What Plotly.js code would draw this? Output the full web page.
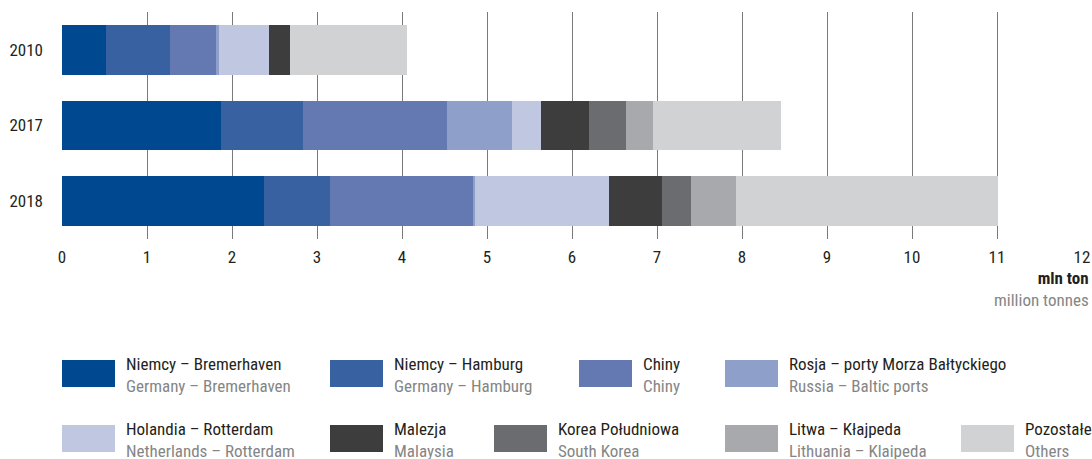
<!DOCTYPE html>
<html><head><meta charset="utf-8">
<script src="https://cdn.plot.ly/plotly-3.0.1.min.js"></script>
<style>html,body{margin:0;padding:0;background:#fff}#chart{width:1092px;height:459px}</style>
</head><body><div id="chart"></div>
<script>
const years = ['2010', '2017', '2018'];
const seriesPL = ['Niemcy – Bremerhaven', 'Niemcy – Hamburg', 'Chiny', 'Rosja – porty Morza Bałtyckiego', 'Holandia – Rotterdam', 'Malezja', 'Korea Południowa', 'Litwa – Kłajpeda', 'Pozostałe'];
const seriesEN = ['Germany – Bremerhaven', 'Germany – Hamburg', 'Chiny', 'Russia – Baltic ports', 'Netherlands – Rotterdam', 'Malaysia', 'South Korea', 'Lithuania – Klaipeda', 'Others'];
const bremerhaven = [0.52, 1.87, 2.38];
const hamburg = [0.75, 0.96, 0.77];
const chiny = [0.54, 1.70, 1.68];
const rosja = [0.04, 0.76, 0.03];
const holandia = [0.59, 0.34, 1.57];
const malezja = [0.24, 0.57, 0.63];
const korea = [0, 0.43, 0.34];
const litwa = [0, 0.32, 0.53];
const pozostale = [1.38, 1.51, 3.08];
const xTicks = [0,1,2,3,4,5,6,7,8,9,10,11,12];

const values = [bremerhaven, hamburg, chiny, rosja, holandia, malezja, korea, litwa, pozostale];
const colors = ['#00488f', '#3761a1', '#6479b2', '#8ea0ca', '#c0c7e1', '#3d3d3d', '#6b6c70', '#a8a9ad', '#d1d2d4'];
const FONT = '"Roboto Condensed", "Liberation Sans Narrow", "Liberation Sans", Arial, sans-serif';
const DARK = '#231f20', GREY = '#858585';

const traces = values.map((v, i) => ({
  type: 'bar', orientation: 'h', y: years, x: v, name: seriesPL[i],
  marker: {color: colors[i], line: {width: 0}}, showlegend: false, hoverinfo: 'x+name'
}));

// layout geometry (pixels)
const W = 1092, H = 459, L = 62, R = 10, T = 12, B = 220;
const pw = W - L - R, ph = H - T - B;
const px = x => (x - L) / pw;
const py = y => (H - B - y) / ph;

// legend placement (layout only)
const legCols = [[62, 330, 579, 725, 961], [62, 330, 494, 725, 961]];
const legRowY = [360, 425];
const swW = 53, swH = 27;
const shapes = [], annotations = [];
for (let i = 0; i < seriesPL.length; i++) {
  const row = i < 4 ? 0 : 1;
  const col = i < 4 ? i : i - 4;
  const x0 = legCols[row][col], y0 = legRowY[row];
  shapes.push({type: 'rect', xref: 'paper', yref: 'paper', x0: px(x0), x1: px(x0 + swW), y0: py(y0 + swH), y1: py(y0), fillcolor: colors[i], line: {width: 0}});
  annotations.push({xref: 'paper', yref: 'paper', x: px(x0 + swW + 9), y: py(y0 - 8), xanchor: 'left', yanchor: 'top', align: 'left', showarrow: false,
    text: seriesPL[i] + '<br><span style="color:' + GREY + '">' + seriesEN[i] + '</span>', font: {family: FONT, size: 17, color: DARK}});
}
annotations.push({xref: 'paper', yref: 'paper', x: px(1091), y: py(266), xanchor: 'right', yanchor: 'top', align: 'right', showarrow: false,
  text: '<b>mln ton</b><br><span style="color:' + GREY + '">million tonnes</span>', font: {family: FONT, size: 17, color: DARK}});

const layout = {
  width: W, height: H, margin: {l: L, r: R, t: T, b: B, pad: 0},
  paper_bgcolor: '#fff', plot_bgcolor: '#fff',
  barmode: 'stack', bargap: 0.34,
  font: {family: FONT, size: 17, color: DARK},
  xaxis: {range: [0, 12], tickvals: xTicks, ticktext: xTicks.map(String), showgrid: true, gridcolor: '#7a7a7a', gridwidth: 1,
    zeroline: false, ticks: '', ticklabelstandoff: 6, showline: false, tickfont: {family: FONT, size: 17, color: DARK}, fixedrange: true},
  yaxis: {type: 'category', categoryorder: 'array', categoryarray: years, autorange: 'reversed', showgrid: false, zeroline: false, ticks: '',
    ticklabelstandoff: 18, tickfont: {family: FONT, size: 17, color: DARK}, fixedrange: true},
  shapes: shapes, annotations: annotations
};
Plotly.newPlot('chart', traces, layout, {displayModeBar: false, staticPlot: true});
</script></body></html>
